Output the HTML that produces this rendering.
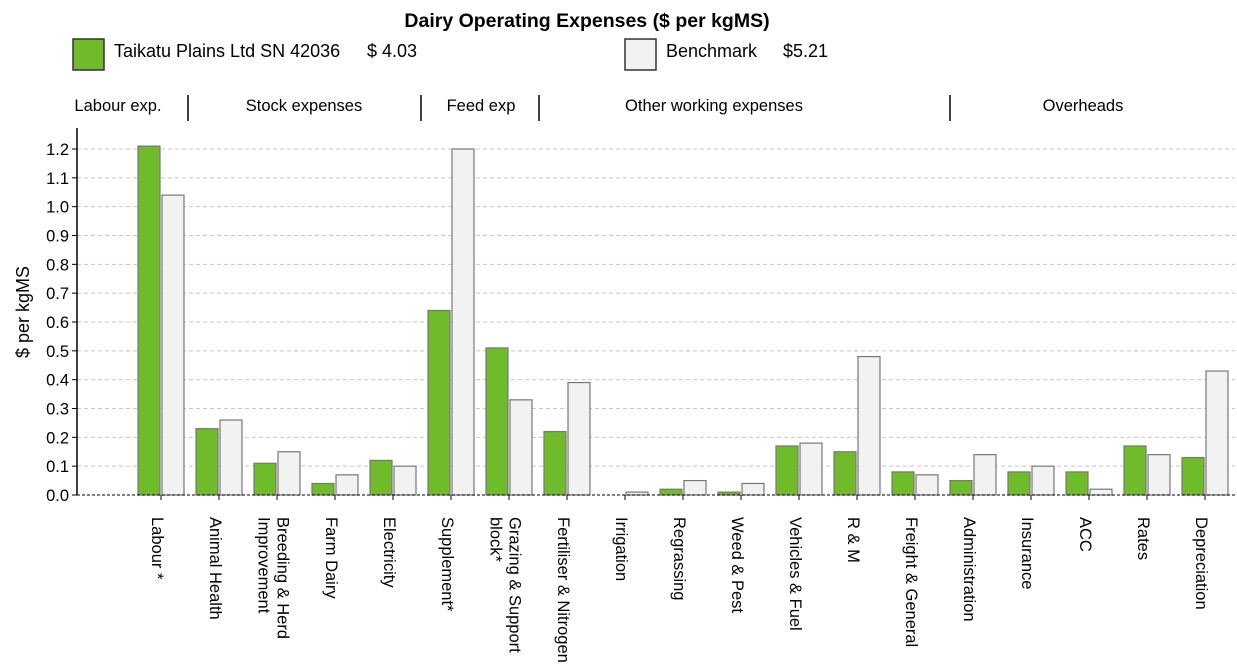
<!DOCTYPE html>
<html><head><meta charset="utf-8"><style>
body{margin:0;background:#fff;}
svg{display:block;font-family:"Liberation Sans",Arial,sans-serif;}
</style></head><body>
<svg id="c" width="1237" height="670">
<text x="587" y="27" text-anchor="middle" font-size="19.5" font-weight="bold">Dairy Operating Expenses ($ per kgMS)</text>
<g>
<rect x="73" y="39" width="31" height="31" fill="#6fbb2a" stroke="#333" stroke-width="1.5"/>
<text x="114" y="57" font-size="18">Taikatu Plains Ltd SN 42036</text>
<text x="367" y="57" font-size="18">$ 4.03</text>
</g>
<g>
<rect x="625" y="39" width="31" height="31" fill="#f2f2f2" stroke="#333" stroke-width="1.5"/>
<text x="666" y="57" font-size="18">Benchmark</text>
<text x="783" y="57" font-size="18">$5.21</text>
</g>
<g font-size="16.5" text-anchor="middle">
<text x="118" y="111">Labour exp.</text>
<text x="304" y="111">Stock expenses</text>
<text x="481" y="111">Feed exp</text>
<text x="714" y="111">Other working expenses</text>
<text x="1083" y="111">Overheads</text>
<g stroke="#000" stroke-width="1.5">
<line x1="188" y1="95" x2="188" y2="121"/><line x1="421" y1="95" x2="421" y2="121"/>
<line x1="539" y1="95" x2="539" y2="121"/><line x1="950" y1="95" x2="950" y2="121"/>
</g></g>
<text transform="translate(29,312) rotate(-90)" text-anchor="middle" font-size="18">$ per kgMS</text>
<g id="grid"></g><g id="bars"></g><g id="axes"></g><g id="labels"></g>
</svg>
<script>
const categories=[["Labour *"],["Animal Health"],["Breeding & Herd","Improvement"],["Farm Dairy"],["Electricity"],["Supplement*"],["Grazing & Support","block*"],["Fertiliser & Nitrogen"],["Irrigation"],["Regrassing"],["Weed & Pest"],["Vehicles & Fuel"],["R & M"],["Freight & General"],["Administration"],["Insurance"],["ACC"],["Rates"],["Depreciation"]];
const farmValues=[1.21,0.23,0.11,0.04,0.12,0.64,0.51,0.22,0.00,0.02,0.01,0.17,0.15,0.08,0.05,0.08,0.08,0.17,0.13];
const benchValues=[1.04,0.26,0.15,0.07,0.10,1.20,0.33,0.39,0.01,0.05,0.04,0.18,0.48,0.07,0.14,0.10,0.02,0.14,0.43];
const yTicks=[0,0.1,0.2,0.3,0.4,0.5,0.6,0.7,0.8,0.9,1.0,1.1,1.2];
const NS="http://www.w3.org/2000/svg";
const y=v=>495-v*(346/1.2);
const x=i=>161+58*i;
function mk(p,t,a){const e=document.createElementNS(NS,t);for(const k in a)e.setAttribute(k,a[k]);document.getElementById(p).appendChild(e);return e;}
yTicks.forEach(t=>{
 if(t>0){const g=mk('grid','line',{x1:77,x2:1235,y1:y(t),y2:y(t),stroke:'#c8c8c8','stroke-dasharray':'4,3'});
 
 }
 mk('axes','line',{x1:72,x2:77,y1:y(t),y2:y(t),stroke:'#000'});
 const l=mk('axes','text',{x:69,y:y(t)+6,'text-anchor':'end','font-size':16.5});l.textContent=t.toFixed(1);
 
 
});
mk('axes','line',{x1:77,x2:77,y1:128,y2:495,stroke:'#000','stroke-width':1.5});
mk('axes','line',{x1:77,x2:1235,y1:495,y2:495,stroke:'#000','stroke-dasharray':'3,2'});
categories.forEach((c,i)=>{
 const cx=x(i);
 const g=mk('bars','rect',{x:cx-23,y:y(farmValues[i]),width:22,height:495-y(farmValues[i]),fill:'#6fbb2a',stroke:'#777','stroke-width':1.2});
 
 
 const b=mk('bars','rect',{x:cx+1,y:y(benchValues[i]),width:22,height:495-y(benchValues[i]),fill:'#f2f2f2',stroke:'#777','stroke-width':1.2});
 
 
 mk('axes','line',{x1:cx,x2:cx,y1:495,y2:500,stroke:'#000'});
 c.forEach((line,j)=>{
  const lx=cx-9-(j*19)+(c.length-1)*9.5;
  const t=mk('labels','text',{transform:`translate(${lx},517) rotate(90)`,'font-size':16.5});
  t.textContent=line;
  
  
 });
});
</script>
</body></html>
